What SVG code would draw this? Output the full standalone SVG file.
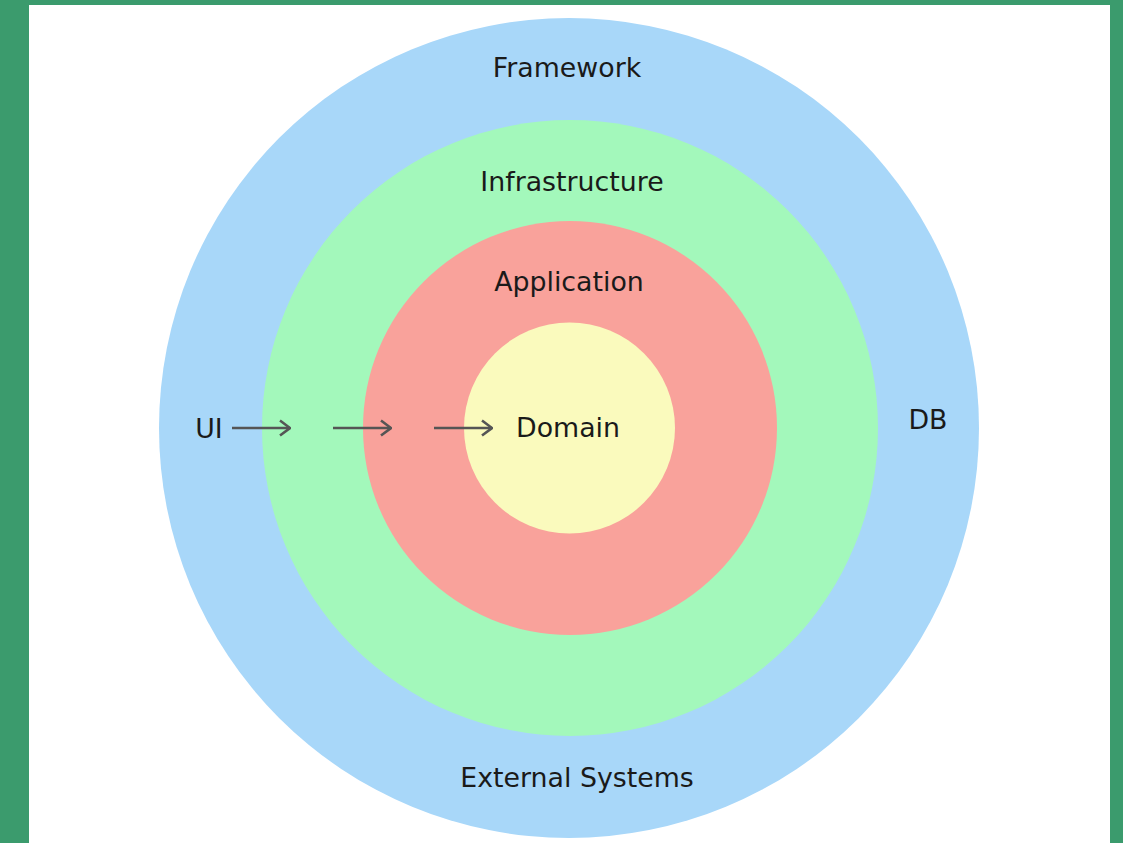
<svg xmlns="http://www.w3.org/2000/svg" width="1123" height="843" viewBox="0 0 1123 843">
<style>
.lbl{font-family:"DejaVu Sans",sans-serif;font-size:26.8px;fill:#1a1a1a;text-anchor:middle}
.arr{stroke:#555;stroke-width:2.6;fill:none}
</style>
<defs>
<marker id="ah" viewBox="0 0 12 18" refX="11" refY="9" markerWidth="12" markerHeight="18" markerUnits="userSpaceOnUse" orient="auto">
<path d="M1,1.5 L11,9 L1,16.5" fill="none" stroke="#555" stroke-width="2.6"/>
</marker>
</defs>
<rect x="0" y="0" width="1123" height="843" fill="#3b9b6d"/>
<rect x="29" y="5" width="1081" height="838" fill="#ffffff"/>
<g id="framework"><circle cx="569" cy="428" r="410" fill="#a8d7f9"/><text class="lbl" x="567" y="77">Framework</text><text class="lbl" x="577" y="787">External Systems</text><text class="lbl" x="209" y="438">UI</text><text class="lbl" x="928" y="429">DB</text></g>
<g id="infrastructure"><circle cx="570" cy="428" r="308" fill="#a3f8bb"/><text class="lbl" x="572" y="191">Infrastructure</text></g>
<g id="application"><circle cx="570" cy="428" r="207" fill="#f9a29b"/><text class="lbl" x="569" y="291">Application</text></g>
<g id="domain"><circle cx="569.5" cy="428" r="105.5" fill="#fafabd"/><text class="lbl" x="568" y="437">Domain</text></g>
<g id="connectors">
<line class="arr" x1="232" y1="428" x2="290" y2="428" marker-end="url(#ah)"/>
<line class="arr" x1="333" y1="428" x2="391" y2="428" marker-end="url(#ah)"/>
<line class="arr" x1="434" y1="428" x2="492" y2="428" marker-end="url(#ah)"/>
</g>
</svg>
